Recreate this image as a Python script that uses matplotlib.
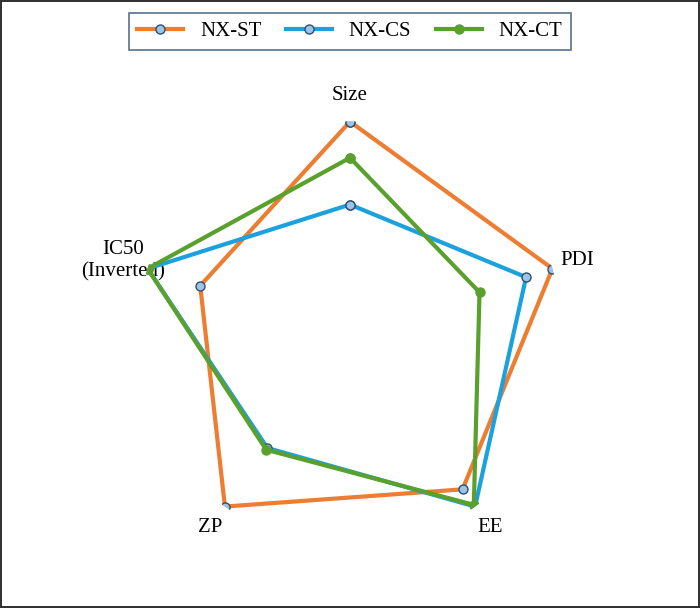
import matplotlib.pyplot as plt
import numpy as np

plt.rcParams['font.family'] = ['Liberation Serif', 'DejaVu Serif']

categories = ['Size', 'PDI', 'EE', 'ZP', 'IC50\n(Inverted)']
nx_st = [1.00, 1.00, 0.90, 1.00, 0.74]
nx_cs = [0.61, 0.87, 1.00, 0.66, 1.00]
nx_ct = [0.83, 0.64, 0.99, 0.67, 1.00]

angles = (np.pi / 2 - np.arange(len(categories)) * 2 * np.pi / len(categories)) % (2 * np.pi)

fig = plt.figure(figsize=(7, 6.08), dpi=100)
fig.patch.set_edgecolor('#333333')
fig.patch.set_linewidth(1.5)
ax = fig.add_axes([0.195, 0.10, 0.61, 0.70], polar=True)

series = [
    ('NX-ST', nx_st, '#ED7D31', '#9DC3E6'),
    ('NX-CS', nx_cs, '#1BA1DD', '#9DC3E6'),
    ('NX-CT', nx_ct, '#5AA02C', '#5AA02C'),
]
for name, vals, col, face in series:
    a = np.append(angles, angles[0])
    v = np.append(vals, vals[0])
    ax.plot(a, v, color=col, lw=3, marker='o', ms=6.5,
            mfc=face, mec=col if face == col else '#2F4F6F', mew=1, label=name)

ax.set_thetalim(0, 2 * np.pi)
ax.set_ylim(0, 1)
ax.set_yticks([])
ax.set_xticks(angles)
ax.set_xticklabels(categories, fontsize=15)
ax.tick_params(axis='x', pad=8)
ax.grid(False)
ax.spines['polar'].set_visible(False)
ax.patch.set_visible(False)

leg = fig.legend(loc='upper center', bbox_to_anchor=(0.5, 0.995), ncol=3,
                 fontsize=15, frameon=True, fancybox=False, handlelength=2.2,
                 columnspacing=1.2)
leg.get_frame().set_edgecolor('#2F4F6F')
leg.get_frame().set_linewidth(1.2)

fig.savefig('out.png', dpi=100, edgecolor=fig.get_edgecolor())
